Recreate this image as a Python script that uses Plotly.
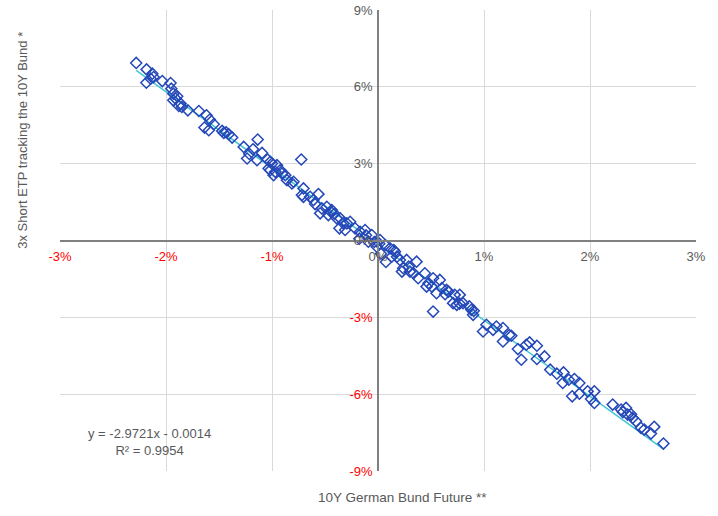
import plotly.graph_objects as go

# daily returns in %: 10Y Bund future (x) vs 3x short ETP (y)
bund_ret = [
    -2.281, -2.183, -2.129, -2.185, -2.145, -2.117, -2.035, -1.957, -1.950, -1.931,
    -1.910, -1.894, -1.931, -1.863, -1.879, -1.794, -1.850,
    -1.690, -1.618, -1.587, -1.549, -1.637, -1.596, -1.470, -1.408, -1.376, -1.455,
    -1.433, -1.267, -1.179, -1.135, -1.235, -1.141, -1.214,
    -1.094, -1.041, -1.016, -1.032, -0.985, -0.953, -0.922, -0.875, -0.859, -0.797,
    -0.724, -0.703, -0.718, -0.640, -0.562, -0.609, -0.546, -0.483, -0.436, -0.468,
    -1.000, -0.969, -0.906, -0.812, -0.593, -0.530, -1.016, -0.703,
    -0.357, -0.364, -0.294, -0.310, -0.263, -0.216, -0.169, -0.122, -0.059, -0.091,
    0.019, -0.012, 0.066, 0.113, 0.028, 0.075, -0.442, -0.411, -0.176, -0.113,
    -0.035, 0.012, -0.389, -0.326,
    0.160, 0.129, 0.207, 0.270, 0.364, 0.238, 0.301, 0.379, 0.442, 0.520,
    0.458, 0.583, 0.552, 0.646, 0.724, 0.771, 0.708, 0.802, 0.520, 0.148,
    0.179, 0.226, 0.289, 0.336, 0.477, 0.508, 0.602, 0.633, 0.665, 0.743,
    0.881, 0.897, 1.023, 0.991, 1.085, 1.179, 1.258, 1.179, 1.320, 1.352,
    1.117, 1.239, 0.769, 0.861, 0.903,
    1.399, 1.430, 1.499, 1.499, 1.571, 1.625, 1.687, 1.750, 1.743, 1.800,
    1.853, 1.900, 1.832, 1.900, 1.978,
    2.041, 2.010, 2.041, 2.214, 2.293, 2.340, 2.355, 2.402, 2.434, 2.481,
    2.512, 2.606, 2.575, 2.693, 2.387, 2.310,
]
etp_ret = [
    6.934, 6.681, 6.513, 6.163, 6.319, 6.381, 6.225, 6.147, 5.929, 5.734,
    5.540, 5.629, 5.473, 5.345, 5.251, 5.084, 5.212,
    5.056, 4.889, 4.721, 4.538, 4.410, 4.305, 4.277, 4.149, 4.020, 4.199,
    4.227, 3.654, 3.564, 3.942, 3.202, 3.136, 3.381,
    3.420, 3.163, 3.070, 2.813, 2.552, 2.941, 2.746, 2.552, 2.357, 2.291,
    3.163, 2.034, 1.773, 1.706, 1.811, 1.578, 1.060, 1.317, 1.188, 0.993,
    3.007, 2.680, 2.618, 2.228, 1.422, 1.254, 2.746, 1.706,
    0.865, 0.475, 0.670, 0.409, 0.732, 0.475, 0.343, 0.409, 0.214, -0.047,
    0.019, -0.242, -0.175, -0.304, -0.514, -0.838, 1.110, 1.044, 0.070, 0.203,
    -0.058, -0.125, 0.865, 0.670,
    -0.436, -0.631, -0.760, -0.760, -0.826, -1.083, -1.215, -1.473, -1.278, -1.473,
    -1.800, -1.539, -2.057, -1.928, -2.123, -2.123, -2.446, -2.446, -2.774, -0.370,
    -0.631, -1.215, -1.021, -1.278, -1.667, -1.800, -1.862, -2.096, -1.995, -2.513,
    -2.707, -2.902, -3.292, -3.553, -3.487, -3.420, -3.720, -3.942, -4.238, -4.655,
    -3.358, -3.693, -2.462, -2.571, -2.746,
    -4.071, -3.981, -4.110, -4.628, -4.527, -5.045, -5.201, -5.150, -5.563, -5.434,
    -5.407, -5.563, -6.085, -5.980, -5.890,
    -5.890, -6.186, -6.342, -6.408, -6.603, -6.537, -6.798, -6.926, -7.059, -7.316,
    -7.382, -7.277, -7.538, -7.928, -6.786, -6.700,
]

# linear trendline as printed on the chart (fractions)
slope = -2.9721
intercept = -0.0014
r_squared = 0.9954

x_ticks = [-3, -2, -1, 0, 1, 2, 3]
y_ticks = [-9, -6, -3, 0, 3, 6, 9]


def pct_label(v):
    txt = f"{v}%"
    if v < 0:
        return f'<span style="color:#FF0000">{txt}</span>'
    return txt


trend_x = [min(bund_ret), max(bund_ret)]
trend_y = [slope * x + intercept * 100 for x in trend_x]

fig = go.Figure()
fig.add_trace(go.Scatter(
    x=trend_x, y=trend_y, mode="lines",
    line=dict(color="#3EC6D3", width=1.5),
    hoverinfo="skip", showlegend=False,
))
fig.add_trace(go.Scatter(
    x=bund_ret, y=etp_ret, mode="markers",
    marker=dict(symbol="diamond-open", size=8.5, color="#2548B8", line=dict(width=1.5)),
    showlegend=False,
))

axis_font = dict(family="Arial, Liberation Sans, sans-serif", size=13, color="#595959")
title_font = dict(family="Arial, Liberation Sans, sans-serif", size=13.5, color="#595959")

fig.update_layout(
    width=718, height=516,
    margin=dict(l=60, r=22, t=10, b=45),
    plot_bgcolor="white", paper_bgcolor="white",
    font=axis_font,
    xaxis=dict(
        range=[-3, 3], tickvals=x_ticks, ticktext=[pct_label(v) for v in x_ticks],
        anchor="free", position=0.5, automargin=False,
        showgrid=True, gridcolor="#D9D9D9", gridwidth=1,
        zeroline=False, showline=True, linecolor="#808080", linewidth=1.5,
        ticks="", tickfont=axis_font, ticklabelstandoff=4,
    ),
    yaxis=dict(
        range=[-9, 9], tickvals=y_ticks, ticktext=[pct_label(v) for v in y_ticks],
        anchor="free", position=0.5, automargin=False,
        showgrid=True, gridcolor="#D9D9D9", gridwidth=1,
        zeroline=False, showline=True, linecolor="#808080", linewidth=1.5,
        ticks="", tickfont=axis_font, ticklabelstandoff=2,
    ),
    annotations=[
        dict(text="10Y German Bund Future **", xref="paper", yref="paper",
             x=0.538, y=-0.058, xanchor="center", yanchor="middle", showarrow=False,
             font=title_font),
        dict(text="3x Short ETP tracking the 10Y Bund *", xref="paper", yref="paper",
             x=-0.06, y=0.718, xanchor="center", yanchor="middle", textangle=-90,
             showarrow=False, font=axis_font),
        dict(text=f"y = {slope}x - {abs(intercept)}<br>R² = {r_squared}",
             xref="paper", yref="paper", x=0.14, y=0.062, xanchor="center",
             yanchor="middle", align="center", showarrow=False, font=axis_font),
    ],
)

# page body has a default 8px margin; drop it so the figure sits at the window origin
fig.write_html("out.html", config={"displayModeBar": False},
               post_script="document.body.style.margin = '0';")
